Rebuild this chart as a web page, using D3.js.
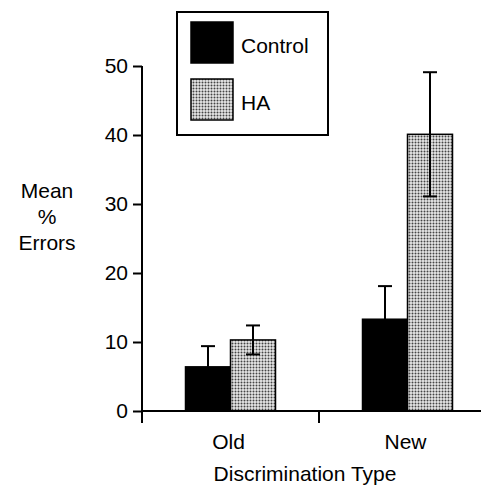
<!DOCTYPE html>
<html>
<head>
<meta charset="utf-8">
<script src="https://cdn.jsdelivr.net/npm/d3@7"></script>
<style>
  body { margin: 0; background: #fff; }
  text { font-family: "Liberation Sans", Arial, sans-serif; fill: #000; }
</style>
</head>
<body>
<div id="chart"></div>
<script>
// data
const groups = ["Old", "New"];
const series = ["Control", "HA"];
const controlMean = [6.4, 13.3];
const controlErr = [3.0, 4.8];
const haMean = [10.3, 40.1];
const haErr = [2.1, 9.0];
const yTicks = [0, 10, 20, 30, 40, 50];

const width = 481, height = 486;
const ink = "#000";

const svg = d3.select("#chart").append("svg")
    .attr("width", width).attr("height", height);

// stipple pattern for HA bars
const pat = svg.append("defs").append("pattern")
    .attr("id", "dots").attr("patternUnits", "userSpaceOnUse")
    .attr("width", 3).attr("height", 3);
pat.append("rect").attr("width", 3).attr("height", 3).attr("fill", "#e8e8e8");
pat.append("circle").attr("cx", 1.5).attr("cy", 1.5).attr("r", 1).attr("fill", "#444");

const y = d3.scaleLinear().domain([0, 50]).range([411, 66]);
const x = d3.scaleBand().domain(groups).range([142, 496]);
const xs = d3.scaleBand().domain(series).range([0, 90]);

const rows = groups.map((g, i) => [
    { g, s: "Control", v: controlMean[i], e: controlErr[i] },
    { g, s: "HA", v: haMean[i], e: haErr[i] }
]).flat();

const fillOf = s => s === "Control" ? ink : "url(#dots)";
const bx = d => x(d.g) + x.bandwidth() / 2 - 45 + xs(d.s);

// bars
svg.append("g").selectAll("rect").data(rows).enter().append("rect")
    .attr("x", bx)
    .attr("y", d => y(d.v))
    .attr("width", xs.bandwidth())
    .attr("height", d => y(0) - y(d.v))
    .attr("fill", d => fillOf(d.s))
    .attr("stroke", ink).attr("stroke-width", 1.5);

// error bars
const eb = svg.append("g").attr("stroke", ink).attr("stroke-width", 2);
eb.selectAll("line.v").data(rows).enter().append("line")
    .attr("x1", d => bx(d) + xs.bandwidth() / 2)
    .attr("x2", d => bx(d) + xs.bandwidth() / 2)
    .attr("y1", d => y(d.v - d.e))
    .attr("y2", d => y(d.v + d.e));
eb.selectAll("line.top").data(rows).enter().append("line")
    .attr("x1", d => bx(d) + xs.bandwidth() / 2 - 7)
    .attr("x2", d => bx(d) + xs.bandwidth() / 2 + 7)
    .attr("y1", d => y(d.v + d.e))
    .attr("y2", d => y(d.v + d.e));
eb.selectAll("line.bot").data(rows).enter().append("line")
    .attr("x1", d => bx(d) + xs.bandwidth() / 2 - 7)
    .attr("x2", d => bx(d) + xs.bandwidth() / 2 + 7)
    .attr("y1", d => y(d.v - d.e))
    .attr("y2", d => y(d.v - d.e));

// y axis
const yAxis = svg.append("g").attr("transform", "translate(142,0)")
    .call(d3.axisLeft(y).tickValues(yTicks).tickSize(9).tickPadding(5));
yAxis.select(".domain").attr("d", `M0,${y(50)}V423`);
yAxis.selectAll("line, .domain").attr("stroke", ink).attr("stroke-width", 2);
yAxis.selectAll("text").style("font-size", "21px").attr("fill", ink)
    .attr("font-family", null);

// x axis
const xAxis = svg.append("g").attr("transform", `translate(0,${y(0)})`);
xAxis.append("line").attr("x1", 142).attr("x2", width)
    .attr("stroke", ink).attr("stroke-width", 2);
xAxis.append("line")
    .attr("x1", x("New")).attr("x2", x("New"))
    .attr("y1", 0).attr("y2", 12)
    .attr("stroke", ink).attr("stroke-width", 2);
xAxis.selectAll("text").data(groups).enter().append("text")
    .attr("x", d => x(d) + x.bandwidth() / 2 - 2)
    .attr("y", 38)
    .attr("text-anchor", "middle")
    .style("font-size", "21px")
    .text(d => d);

svg.append("text").attr("x", 305).attr("y", 481)
    .attr("text-anchor", "middle").style("font-size", "21px")
    .text("Discrimination Type");

const yl = svg.append("text").attr("text-anchor", "middle").style("font-size", "21px");
["Mean", "%", "Errors"].forEach((t, i) => {
    yl.append("tspan").attr("x", 47).attr("y", 198 + i * 26).text(t);
});

// legend
const lg = svg.append("g");
lg.append("rect").attr("x", 177).attr("y", 12).attr("width", 151).attr("height", 123)
    .attr("fill", "#fff").attr("stroke", ink).attr("stroke-width", 2);
lg.selectAll("rect.sw").data(series).enter().append("rect")
    .attr("x", 191).attr("y", (d, i) => 22 + i * 57)
    .attr("width", 42).attr("height", 41)
    .attr("fill", d => fillOf(d))
    .attr("stroke", ink).attr("stroke-width", 1.5);
lg.selectAll("text").data(series).enter().append("text")
    .attr("x", 241).attr("y", (d, i) => 53 + i * 57)
    .style("font-size", "21px")
    .text(d => d);
</script>
</body>
</html>
